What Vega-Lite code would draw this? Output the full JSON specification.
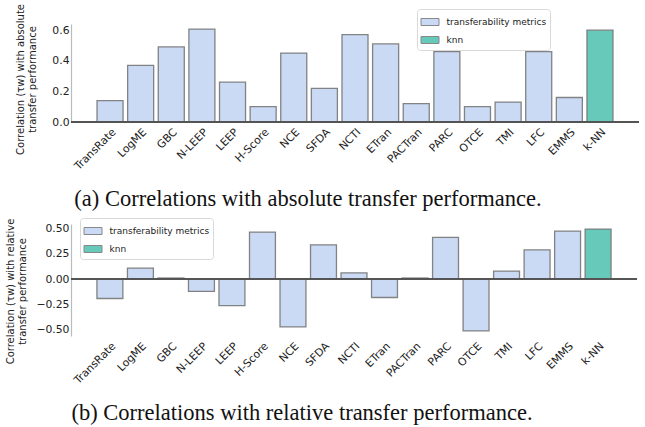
{
  "$schema": "https://vega.github.io/schema/vega-lite/v6.json",
  "padding": {"left": 5, "top": 3, "right": 5, "bottom": 0},
  "spacing": 6,
  "config": {
    "view": {"stroke": null},
    "font": "DejaVu Sans",
    "axis": {"labelFont": "DejaVu Sans", "labelFontSize": 10.8, "labelColor": "#222", "titleFont": "DejaVu Sans", "titleFontSize": 10, "titleFontWeight": "normal", "titleColor": "#222", "grid": false, "ticks": false, "labelOverlap": false},
    "legend": {"labelFont": "DejaVu Sans", "labelFontSize": 9, "labelColor": "#222", "strokeColor": "#d9d9d9", "fillColor": "white", "cornerRadius": 3, "padding": 3.5, "rowPadding": 2, "symbolType": "M-1,-0.39L1,-0.39L1,0.39L-1,0.39Z", "symbolSize": 324, "symbolStrokeColor": "#888", "symbolStrokeWidth": 1, "symbolOpacity": 1, "labelOffset": 7},
    "title": {"font": "Liberation Serif", "fontSize": 22.5, "fontWeight": "normal", "color": "#111", "orient": "bottom", "anchor": "middle"}
  },
  "datasets": {
    "abs": [
      {"metric": "TransRate", "value": 0.14, "group": "transferability metrics"},
      {"metric": "LogME", "value": 0.37, "group": "transferability metrics"},
      {"metric": "GBC", "value": 0.49, "group": "transferability metrics"},
      {"metric": "N-LEEP", "value": 0.607, "group": "transferability metrics"},
      {"metric": "LEEP", "value": 0.26, "group": "transferability metrics"},
      {"metric": "H-Score", "value": 0.10, "group": "transferability metrics"},
      {"metric": "NCE", "value": 0.45, "group": "transferability metrics"},
      {"metric": "SFDA", "value": 0.22, "group": "transferability metrics"},
      {"metric": "NCTI", "value": 0.57, "group": "transferability metrics"},
      {"metric": "ETran", "value": 0.51, "group": "transferability metrics"},
      {"metric": "PACTran", "value": 0.12, "group": "transferability metrics"},
      {"metric": "PARC", "value": 0.46, "group": "transferability metrics"},
      {"metric": "OTCE", "value": 0.10, "group": "transferability metrics"},
      {"metric": "TMI", "value": 0.13, "group": "transferability metrics"},
      {"metric": "LFC", "value": 0.46, "group": "transferability metrics"},
      {"metric": "EMMS", "value": 0.16, "group": "transferability metrics"},
      {"metric": "k-NN", "value": 0.60, "group": "knn"}
    ],
    "rel": [
      {"metric": "TransRate", "value": -0.19, "group": "transferability metrics"},
      {"metric": "LogME", "value": 0.11, "group": "transferability metrics"},
      {"metric": "GBC", "value": 0.012, "group": "transferability metrics"},
      {"metric": "N-LEEP", "value": -0.12, "group": "transferability metrics"},
      {"metric": "LEEP", "value": -0.26, "group": "transferability metrics"},
      {"metric": "H-Score", "value": 0.465, "group": "transferability metrics"},
      {"metric": "NCE", "value": -0.47, "group": "transferability metrics"},
      {"metric": "SFDA", "value": 0.34, "group": "transferability metrics"},
      {"metric": "NCTI", "value": 0.063, "group": "transferability metrics"},
      {"metric": "ETran", "value": -0.18, "group": "transferability metrics"},
      {"metric": "PACTran", "value": 0.012, "group": "transferability metrics"},
      {"metric": "PARC", "value": 0.414, "group": "transferability metrics"},
      {"metric": "OTCE", "value": -0.51, "group": "transferability metrics"},
      {"metric": "TMI", "value": 0.08, "group": "transferability metrics"},
      {"metric": "LFC", "value": 0.29, "group": "transferability metrics"},
      {"metric": "EMMS", "value": 0.475, "group": "transferability metrics"},
      {"metric": "k-NN", "value": 0.495, "group": "knn"}
    ]
  },
  "resolve": {"scale": {"color": "independent"}, "legend": {"color": "independent"}},
  "vconcat": [
    {
      "width": 568,
      "height": 98,
      "title": {"text": "(a) Correlations with absolute transfer performance.", "offset": 17, "dx": -47},
      "data": {"name": "abs"},
      "layer": [
        {
          "mark": {"type": "bar", "stroke": "#777", "strokeWidth": 1.3, "strokeOpacity": 0.9},
          "encoding": {
            "x": {"field": "metric", "type": "nominal", "sort": null, "title": null,
                  "scale": {"paddingInner": 0.15, "paddingOuter": 0.85},
                  "axis": {"labelAngle": -45, "labelAlign": "right", "labelBaseline": "top", "domain": false, "labelPadding": 4}},
            "y": {"field": "value", "type": "quantitative",
                  "scale": {"domain": [0, 0.64], "nice": false},
                  "axis": {"values": [0, 0.2, 0.4, 0.6], "tickCount": 20, "format": ".1f", "domainColor": "#bbb", "domainWidth": 1.2, "labelPadding": 2,
                           "title": ["Correlation (τw) with absolute", "transfer performance"], "titlePadding": 14, "titleY": 55}},
            "color": {"field": "group", "type": "nominal",
                      "scale": {"domain": ["transferability metrics", "knn"], "range": ["#cadaf4", "#66c9ba"]},
                      "legend": {"title": null, "orient": "none", "legendX": 346, "legendY": -15}}
          }
        },
        {
          "mark": {"type": "rule", "color": "#555", "strokeWidth": 1.5},
          "encoding": {"y": {"datum": 0}}
        }
      ]
    },
    {
      "width": 566,
      "height": 112,
      "title": {"text": "(b) Correlations with relative transfer performance.", "offset": 17, "dx": -52},
      "data": {"name": "rel"},
      "layer": [
        {
          "mark": {"type": "bar", "stroke": "#777", "strokeWidth": 1.3, "strokeOpacity": 0.9},
          "encoding": {
            "x": {"field": "metric", "type": "nominal", "sort": null, "title": null,
                  "scale": {"paddingInner": 0.15, "paddingOuter": 0.85},
                  "axis": {"labelAngle": -45, "labelAlign": "right", "labelBaseline": "top", "domain": false, "labelPadding": 4}},
            "y": {"field": "value", "type": "quantitative",
                  "scale": {"domain": [-0.56, 0.545], "nice": false},
                  "axis": {"values": [-0.5, -0.25, 0, 0.25, 0.5], "tickCount": 20, "format": ".2f", "domainColor": "#bbb", "domainWidth": 1.2, "labelPadding": 2,
                           "title": ["Correlation (τw) with relative", "transfer performance"], "titlePadding": 8, "titleY": 67}},
            "color": {"field": "group", "type": "nominal",
                      "scale": {"domain": ["transferability metrics", "knn"], "range": ["#cadaf4", "#66c9ba"]},
                      "legend": {"title": null, "orient": "none", "legendX": 9, "legendY": -6}}
          }
        },
        {
          "mark": {"type": "rule", "color": "#555", "strokeWidth": 1.5},
          "encoding": {"y": {"datum": 0}}
        }
      ]
    }
  ]
}
